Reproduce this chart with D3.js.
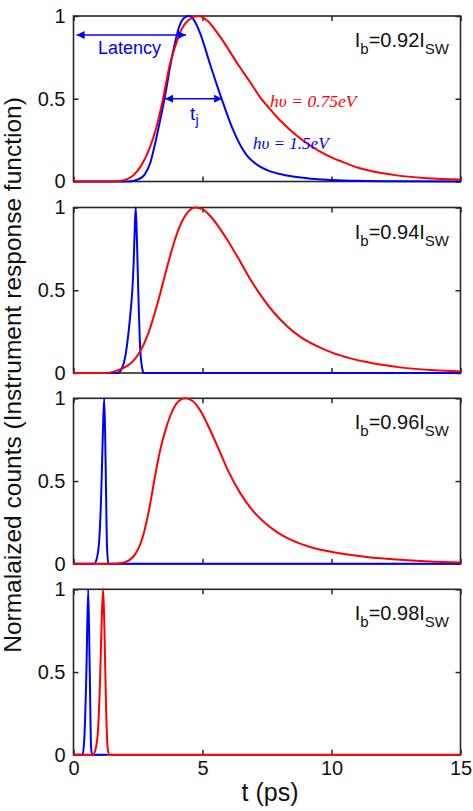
<!DOCTYPE html>
<html><head><meta charset="utf-8">
<script src="https://cdn.jsdelivr.net/npm/d3@7"></script>
<style>body{margin:0;background:#fff}svg{display:block}</style>
</head><body><svg id="c" width="473" height="811"></svg>
<script>
// ---------- data ----------
const panelLabels = ["0.92", "0.94", "0.96", "0.98"];
const xTicks = [0, 5, 10, 15];
const xTickLabels = ["0", "5", "10", "15"];
const yTicks = [0, 0.5, 1];
const yTickLabels = ["0", "0.5", "1"];

// Panel 1 (Ib = 0.92 Isw)
const blue1T = [0, 2.1, 2.3, 2.5, 2.75, 2.97, 3.15, 3.29, 3.55, 3.8, 4.13, 4.35, 4.49, 4.65, 4.9, 5.29, 5.74, 6.19, 6.5, 6.71, 7.0, 7.23, 7.6, 8.0, 8.5, 9.2, 9.8, 11, 12.5, 15];
const blue1Y = [0, 0, 0.003, 0.012, 0.04, 0.11, 0.22, 0.32, 0.52, 0.74, 0.95, 0.995, 1, 0.98, 0.9, 0.71, 0.50, 0.31, 0.21, 0.16, 0.115, 0.09, 0.063, 0.045, 0.03, 0.017, 0.01, 0.004, 0.001, 0];
const red1T = [0, 1.5, 2.0, 2.3, 2.6, 2.97, 3.2, 3.43, 3.74, 3.95, 4.13, 4.5, 4.84, 5.2, 5.68, 6.45, 6.85, 7.23, 7.6, 8.0, 8.52, 9.1, 9.81, 10.4, 11.1, 12.4, 13.7, 15];
const red1Y = [0, 0, 0.01, 0.035, 0.09, 0.21, 0.32, 0.47, 0.71, 0.82, 0.9, 0.98, 1, 0.97, 0.875, 0.69, 0.6, 0.51, 0.44, 0.37, 0.295, 0.225, 0.16, 0.12, 0.08, 0.04, 0.02, 0.012];

// Panel 2 (Ib = 0.94 Isw)
const blue2T = [0, 1.7, 1.85, 1.95, 2.03, 2.1, 2.17, 2.23, 2.28, 2.33, 2.37, 2.41, 2.45, 2.48, 2.51, 2.54, 2.57, 2.6, 2.64, 2.68, 2.72, 15];
const blue2Y = [0, 0, 0.02, 0.06, 0.12, 0.2, 0.3, 0.4, 0.5, 0.66, 0.85, 1, 0.85, 0.68, 0.5, 0.34, 0.2, 0.11, 0.05, 0.015, 0, 0];
const red2T = [0, 1.2, 1.6, 2.0, 2.3, 2.58, 2.9, 3.22, 3.61, 3.9, 4.13, 4.45, 4.71, 5.0, 5.29, 5.94, 6.4, 6.84, 7.3, 7.74, 8.3, 8.78, 9.4, 10.07, 10.7, 11.36, 12.65, 14, 15];
const red2Y = [0, 0, 0.01, 0.035, 0.07, 0.13, 0.24, 0.40, 0.63, 0.79, 0.89, 0.975, 1, 0.99, 0.95, 0.81, 0.69, 0.57, 0.46, 0.37, 0.28, 0.22, 0.165, 0.12, 0.09, 0.066, 0.034, 0.016, 0.009];

// Panel 3 (Ib = 0.96 Isw)
const blue3T = [0, 0.8, 0.9, 1.0, 1.08, 1.14, 1.19, 1.23, 1.26, 1.3, 1.35, 15];
const blue3Y = [0, 0, 0.03, 0.15, 0.45, 0.8, 1, 0.75, 0.45, 0.1, 0, 0];
const red3T = [0, 1.5, 1.8, 2.0, 2.19, 2.4, 2.58, 2.78, 2.97, 3.15, 3.35, 3.55, 3.74, 4.0, 4.32, 4.6, 4.9, 5.2, 5.55, 6.0, 6.45, 6.9, 7.36, 7.9, 8.39, 9.2, 10.07, 10.7, 11.36, 12.66, 14, 15];
const red3Y = [0, 0, 0.004, 0.01, 0.025, 0.06, 0.115, 0.22, 0.36, 0.52, 0.68, 0.8, 0.89, 0.97, 1, 0.985, 0.93, 0.84, 0.72, 0.56, 0.43, 0.33, 0.255, 0.19, 0.148, 0.1, 0.07, 0.054, 0.041, 0.024, 0.013, 0.008];

// Panel 4 (Ib = 0.98 Isw)
const blue4T = [0, 0.35, 0.42, 0.5, 0.57, 0.63, 0.68, 0.72, 1.3];
const blue4Y = [0, 0, 0.1, 0.5, 1, 0.5, 0.05, 0, 0];
const red4T = [0, 0.75, 0.85, 0.95, 1.03, 1.1, 1.15, 1.2, 1.26, 1.32, 1.38, 15];
const red4Y = [0, 0, 0.03, 0.15, 0.45, 0.85, 1, 0.75, 0.3, 0.05, 0, 0];

// Annotations in panel 1 (data coordinates)
const latencyArrow = [0.12, 4.36, 0.885];
const jitterArrow = [3.55, 5.76, 0.5];

// ---------- drawing ----------
const panels = [
  {bt: blue1T, by: blue1Y, rt: red1T, ry: red1Y},
  {bt: blue2T, by: blue2Y, rt: red2T, ry: red2Y},
  {bt: blue3T, by: blue3Y, rt: red3T, ry: red3Y},
  {bt: blue4T, by: blue4Y, rt: red4T, ry: red4Y}
];

const svg = d3.select("#c");
const left = 73.5, right = 460.5;
const panelTop = [16, 207.5, 398.3, 589.3], panelH = 165.5;
const axisColor = "#262626";
const sans = "'Liberation Sans', Arial, sans-serif";
const serif = "'Liberation Serif', 'Times New Roman', serif";
const BLUE = "#0000ff", RED = "#ff0000";

const x = d3.scaleLinear().domain([0, 15]).range([left, right]);

const defs = svg.append("defs");
defs.append("marker").attr("id", "ah").attr("viewBox", "0 0 10 10")
  .attr("refX", 10).attr("refY", 5).attr("markerWidth", 11).attr("markerHeight", 8)
  .attr("markerUnits", "userSpaceOnUse").attr("orient", "auto-start-reverse")
  .append("path").attr("d", "M0,0 L10,5 L0,10 Z").attr("fill", BLUE);

let yScales = [];
panels.forEach((p, i) => {
  const top = panelTop[i], bottom = top + panelH;
  const y = d3.scaleLinear().domain([0, 1]).range([bottom, top]);
  yScales.push(y);
  const g = svg.append("g");

  const axB = g.append("g").attr("transform", `translate(0,${bottom})`)
    .call(d3.axisBottom(x).tickValues(xTicks).tickSize(-5).tickPadding(6)
      .tickFormat((d, j) => i === 3 ? xTickLabels[j] : ""));
  const axT = g.append("g").attr("transform", `translate(0,${top})`)
    .call(d3.axisTop(x).tickValues(xTicks).tickSize(-5).tickFormat(""));
  const axL = g.append("g").attr("transform", `translate(${left},0)`)
    .call(d3.axisLeft(y).tickValues(yTicks).tickSize(-5).tickPadding(8)
      .tickFormat((d, j) => yTickLabels[j]));
  const axR = g.append("g").attr("transform", `translate(${right},0)`)
    .call(d3.axisRight(y).tickValues(yTicks).tickSize(-5).tickFormat(""));
  [axB, axT, axL, axR].forEach(a => {
    a.select(".domain").remove();
    a.selectAll(".tick line").attr("stroke", axisColor).attr("stroke-width", 1.5);
    a.selectAll("text").attr("font-family", sans).attr("font-size", 20).attr("fill", "#111");
  });

  g.append("rect").attr("x", left).attr("y", top).attr("width", right - left).attr("height", panelH)
    .attr("fill", "none").attr("stroke", axisColor).attr("stroke-width", 1.6);

  const line = d3.line().x(d => x(d[0])).y(d => y(d[1])).curve(d3.curveMonotoneX);
  g.append("path").datum(d3.zip(p.bt, p.by)).attr("d", line)
    .attr("fill", "none").attr("stroke", BLUE).attr("stroke-width", 2).attr("stroke-linejoin", "round");
  g.append("path").datum(d3.zip(p.rt, p.ry)).attr("d", line)
    .attr("fill", "none").attr("stroke", RED).attr("stroke-width", 2).attr("stroke-linejoin", "round");

  const t = g.append("text").attr("x", 449).attr("y", top + 31)
    .attr("text-anchor", "end").attr("font-family", sans).attr("font-size", 20).attr("fill", "#111");
  t.append("tspan").text("I");
  t.append("tspan").attr("dy", 7).attr("font-size", 15).text("b");
  t.append("tspan").attr("dy", -7).text("=" + panelLabels[i] + "I");
  t.append("tspan").attr("dy", 7).attr("font-size", 15).text("SW");
});

// annotations on panel 1
const y1 = yScales[0];
svg.append("line").attr("x1", x(latencyArrow[0])).attr("x2", x(latencyArrow[1]))
  .attr("y1", y1(latencyArrow[2])).attr("y2", y1(latencyArrow[2]))
  .attr("stroke", BLUE).attr("stroke-width", 1.5)
  .attr("marker-start", "url(#ah)").attr("marker-end", "url(#ah)");
svg.append("line").attr("x1", x(jitterArrow[0])).attr("x2", x(jitterArrow[1]))
  .attr("y1", y1(jitterArrow[2])).attr("y2", y1(jitterArrow[2]))
  .attr("stroke", BLUE).attr("stroke-width", 1.5)
  .attr("marker-start", "url(#ah)").attr("marker-end", "url(#ah)");

svg.append("text").attr("x", x(0.95)).attr("y", y1(0.77))
  .attr("font-family", sans).attr("font-size", 18).attr("fill", BLUE).text("Latency");
const tj = svg.append("text").attr("x", x(4.52)).attr("y", y1(0.372))
  .attr("font-family", sans).attr("font-size", 19).attr("fill", BLUE);
tj.append("tspan").text("t");
tj.append("tspan").attr("dy", 5).attr("font-size", 14).text("j");

svg.append("text").attr("x", x(7.62)).attr("y", y1(0.45))
  .attr("font-family", serif).attr("font-style", "italic").attr("font-size", 17.5).attr("fill", RED)
  .text("h\u03C5 = 0.75eV");
svg.append("text").attr("x", x(6.96)).attr("y", y1(0.196))
  .attr("font-family", serif).attr("font-style", "italic").attr("font-size", 17).attr("fill", BLUE)
  .text("h\u03C5 = 1.5eV");

// axis titles
svg.append("text").attr("x", (left + right) / 2 + 3).attr("y", 801)
  .attr("text-anchor", "middle").attr("font-family", sans).attr("font-size", 25).attr("fill", "#111")
  .text("t (ps)");
svg.append("text").attr("transform", "translate(20.5,375) rotate(-90)")
  .attr("text-anchor", "middle").attr("font-family", sans).attr("font-size", 24.5).attr("fill", "#111")
  .text("Normalaized counts (Instrument response function)");
</script>
</body></html>
